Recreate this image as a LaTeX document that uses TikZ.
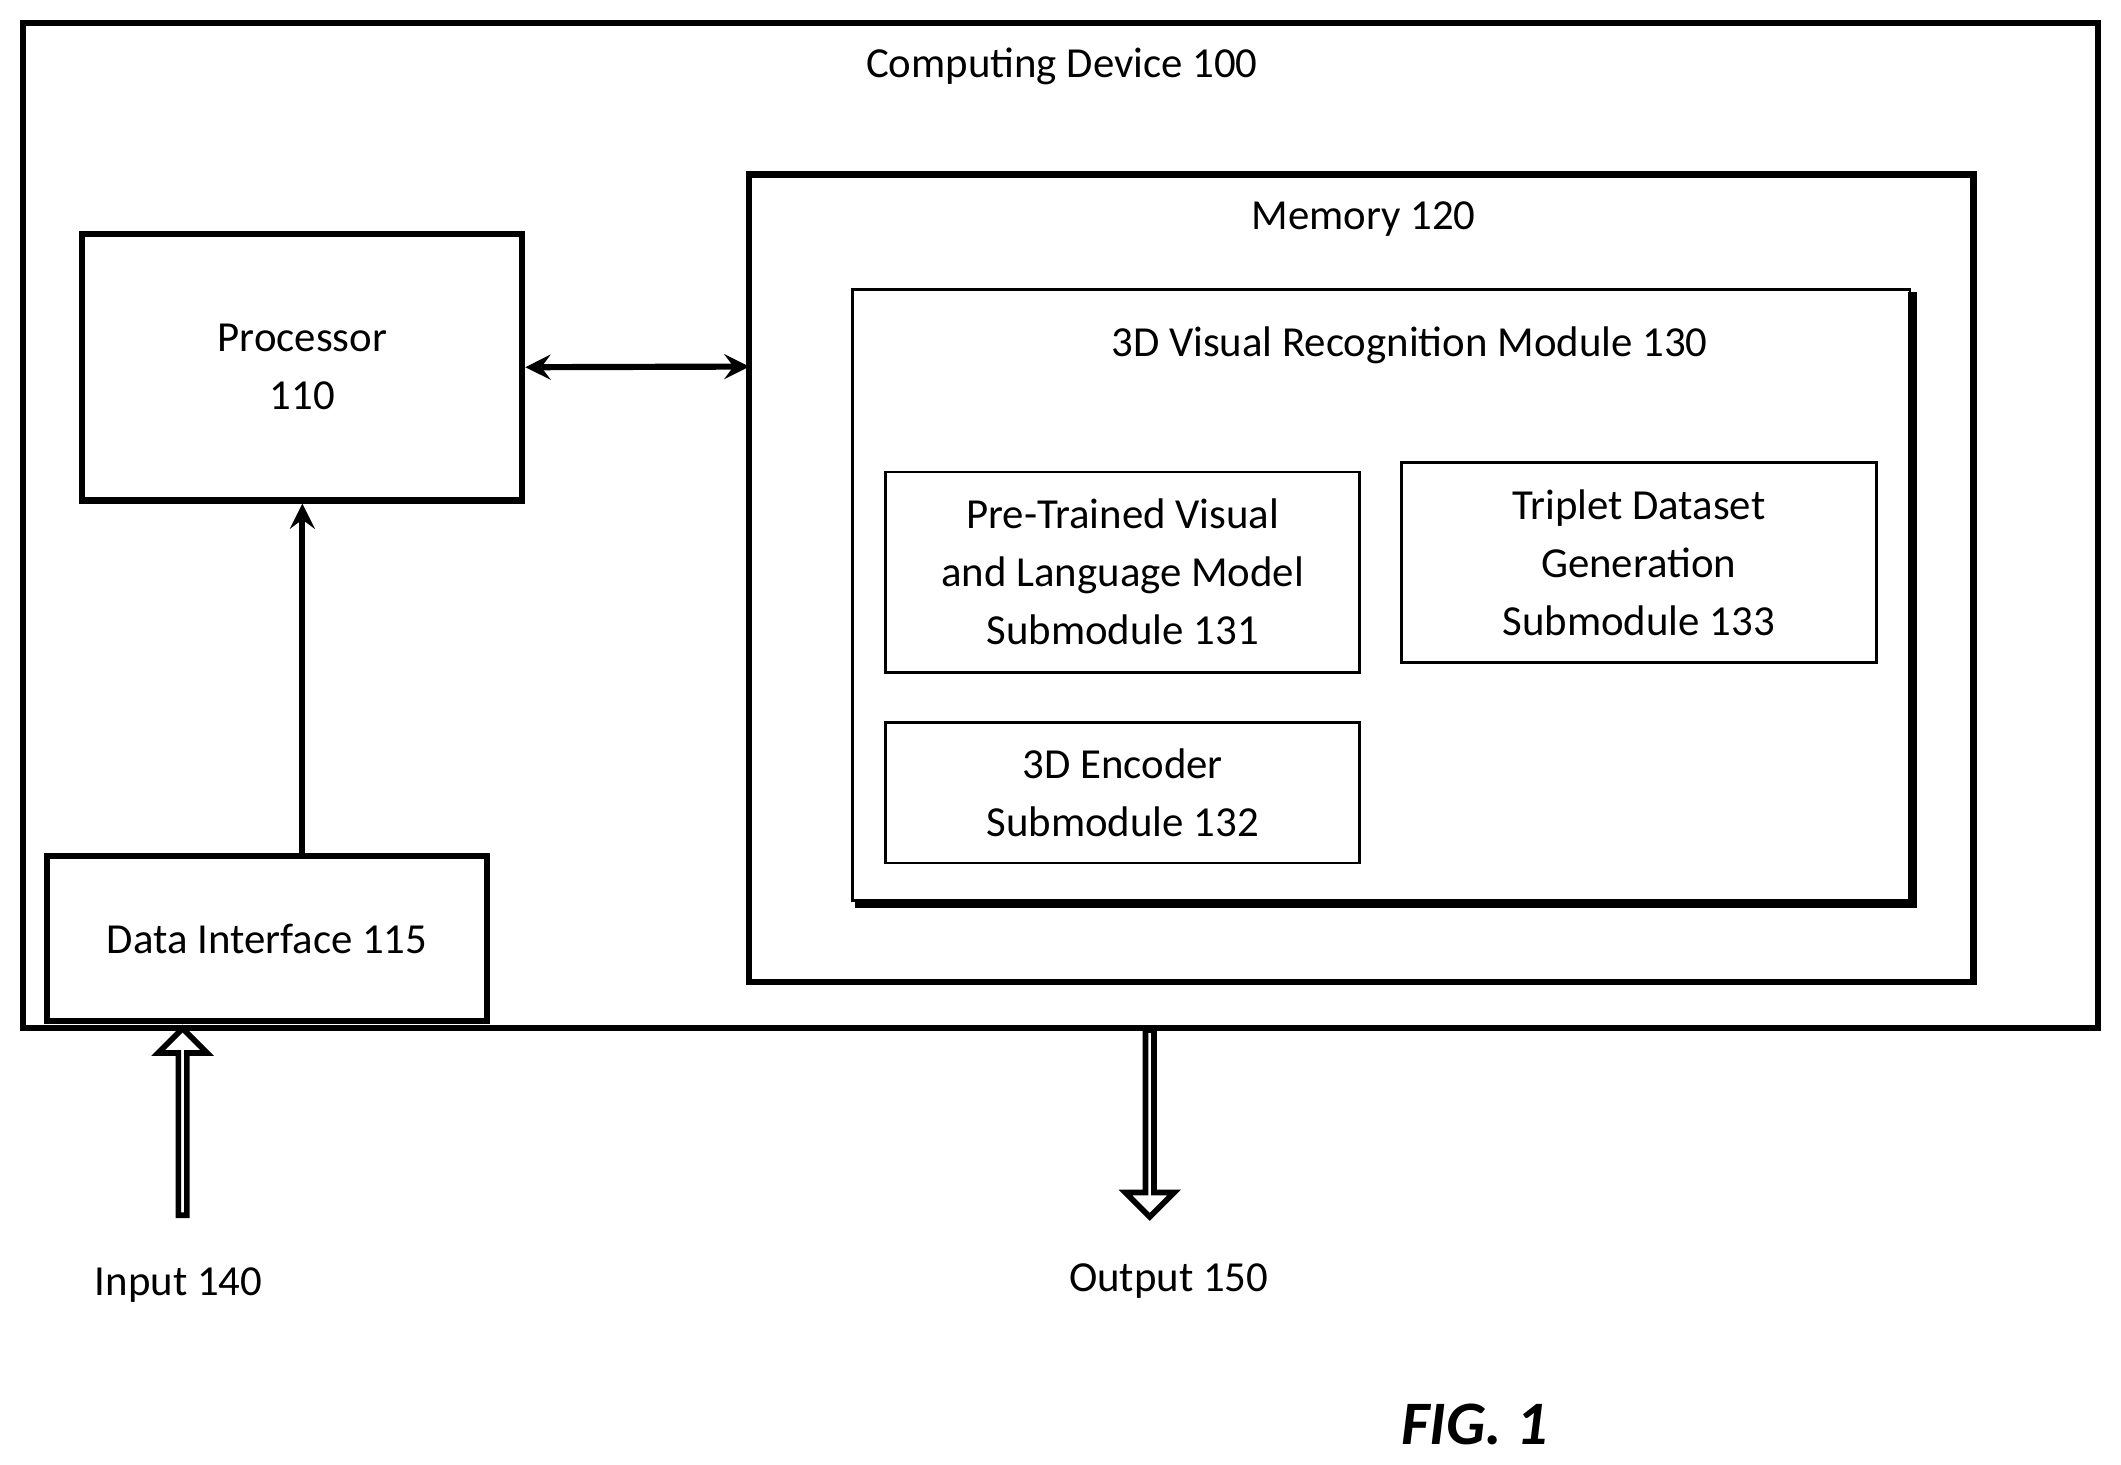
\documentclass[tikz,border=0pt]{standalone}
\usepackage{fontspec}
\setmainfont{Carlito}
\usetikzlibrary{shapes.arrows}

\tikzset{
  box/.style={draw, line width=1.3pt},
  subbox/.style={draw, line width=0.6pt},
  lbl/.style={align=center, font=\fontsize{9}{12.2}\selectfont, inner sep=0pt},
  hollow/.style={draw, single arrow, line width=1.2pt, minimum height=1.38cm,
    single arrow head extend=0.1cm, minimum width=0.36cm, inner sep=0pt, fill=white},
}

\begin{document}
\begin{tikzpicture}[x=0.01cm, y=-0.01cm]
  \useasboundingbox (0,0) rectangle (1568,1083);
  % boxes
  \draw[box] (17,17) rectangle (1551,760);
  \node[lbl] (dev) at (785,49) {Computing Device 100};
  \draw[box] (554,129) rectangle (1459,726);
  \node[lbl] (mem) at (1008,162) {Memory 120};
  \draw[line width=1.8pt] (632,668) -- (1414,668) -- (1414,216);
  \draw[subbox] (630,214) rectangle (1412,666);
  \node[lbl] (mod) at (1042,255) {3D Visual Recognition Module 130};
  \node[subbox, lbl, minimum width=3.5cm, minimum height=1.48cm] (s131) at (830,423)
    {Pre-Trained Visual\\ and Language Model\\ Submodule 131};
  \node[subbox, lbl, minimum width=3.51cm, minimum height=1.48cm] (s133) at (1211.5,416)
    {Triplet Dataset\\ Generation\\ Submodule 133};
  \node[subbox, lbl, minimum width=3.5cm, minimum height=1.04cm] (s132) at (830,586)
    {3D Encoder\\ Submodule 132};
  % processor and data interface
  \node[box, lbl, minimum width=3.25cm, minimum height=1.97cm] (proc) at (223.5,271.5)
    {Processor\\ 110};
  \node[box, lbl, minimum width=3.25cm, minimum height=1.22cm, fill=white] (di) at (197.5,694)
    {Data Interface 115};
  \coordinate (memw) at (554,271);
  \draw[line width=1.3pt, <->, >=stealth] (proc.east) -- (memw);
  \draw[line width=1.3pt, ->, >=stealth] (di.north -| proc.south) -- (proc.south);
  % input / output
  \node[hollow, shape border rotate=90] (inarr) at (135,831) {};
  \node[hollow, shape border rotate=270] (outarr) at (850,829) {};
  \node[lbl] (inp) at (132,950) {Input 140};
  \node[lbl] (outp) at (864,947) {Output 150};
  \node[lbl, font=\fontsize{13}{15}\selectfont\bfseries\itshape] (fig) at (1090,1053) {FIG. 1};
\end{tikzpicture}
\end{document}
